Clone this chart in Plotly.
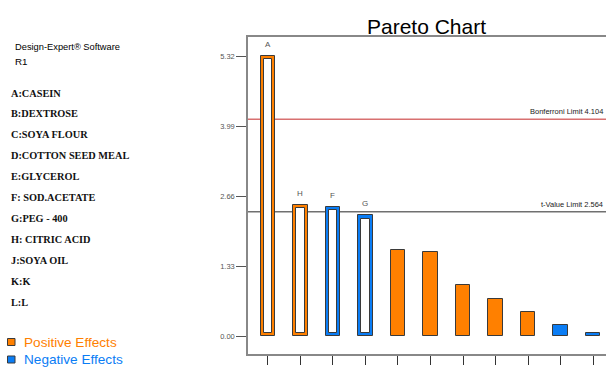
import plotly.graph_objects as go

# ---- data ----
bar_labels = ["A", "H", "F", "G", "", "", "", "", "", "", ""]
effects = [5.32, 2.49, 2.46, 2.29, 1.64, 1.59, 0.96, 0.70, 0.45, 0.20, 0.06]
signs = ["+", "+", "-", "-", "+", "+", "+", "+", "+", "-", "-"]
y_ticks = [0.00, 1.33, 2.66, 3.99, 5.32]
y_ticktext = ["0.00", "1.33", "2.66", "3.99", "5.32"]
bonferroni_y = 4.12
tvalue_y = 2.36
bonferroni_text = "Bonferroni Limit 4.104"
tvalue_text = "t-Value Limit 2.564"
factors = ["A:CASEIN", "B:DEXTROSE", "C:SOYA FLOUR", "D:COTTON SEED MEAL", "E:GLYCEROL",
           "F: SOD.ACETATE", "G:PEG - 400", "H: CITRIC ACID", "J:SOYA OIL", "K:K", "L:L"]
software_text = "Design-Expert® Software"
response_text = "R1"
legend_items = ["Positive Effects", "Negative Effects"]
title_text = "Pareto Chart"

ORANGE = "#FF8000"
BLUE = "#0A7DF5"
DARK = "#3a3a3a"
colour = {"+": ORANGE, "-": BLUE}

# ---- layout geometry (pixels) ----
W, H = 606, 367
ml, mr, mt, mb = 248, 0, 37, 13
pw, ph = W - ml - mr, H - mt - mb

def px(x):
    return (x - ml) / pw

def py(y):
    return (H - mb - y) / ph

xs = list(range(len(effects)))
hollow = [lab != "" for lab in bar_labels]
inset = 0.065

fig = go.Figure()

# filled bars
fx = [x for x, h in zip(xs, hollow) if not h]
fig.add_trace(go.Bar(
    x=fx, y=[effects[i] for i in fx], width=0.46,
    marker=dict(color=[colour[signs[i]] for i in fx], line=dict(color=DARK, width=1)),
    showlegend=False, hoverinfo="skip"))

# hollow bars: outer coloured frame + inner white
hx = [x for x, h in zip(xs, hollow) if h]
fig.add_trace(go.Bar(
    x=hx, y=[effects[i] for i in hx], width=0.46,
    marker=dict(color=[colour[signs[i]] for i in hx], line=dict(color=DARK, width=1)),
    showlegend=False, hoverinfo="skip"))
fig.add_trace(go.Bar(
    x=hx, y=[effects[i] - 2 * inset for i in hx], base=[inset] * len(hx), width=0.26,
    marker=dict(color="white", line=dict(color=DARK, width=1)),
    showlegend=False, hoverinfo="skip"))

shapes = []
ann = []

# limit lines
shapes.append(dict(type="line", xref="paper", yref="y", x0=0, x1=1,
                   y0=bonferroni_y, y1=bonferroni_y, layer="below",
                   line=dict(color="#D87070", width=1.5)))
shapes.append(dict(type="line", xref="paper", yref="y", x0=0, x1=1,
                   y0=tvalue_y, y1=tvalue_y, layer="below",
                   line=dict(color="#707070", width=1.5)))
ann.append(dict(x=px(605), xref="paper", y=bonferroni_y, yref="y", text=bonferroni_text,
                xanchor="right", yanchor="bottom", yshift=1, showarrow=False,
                font=dict(family="Arial", size=7.5, color="#222")))
ann.append(dict(x=px(605), xref="paper", y=tvalue_y, yref="y", text=tvalue_text,
                xanchor="right", yanchor="bottom", yshift=1, showarrow=False,
                font=dict(family="Arial", size=7.5, color="#222")))

# bar labels
for i, lab in enumerate(bar_labels):
    if lab:
        ann.append(dict(x=i, y=effects[i], xref="x", yref="y", text=lab, yshift=5,
                        showarrow=False, yanchor="bottom",
                        font=dict(family="Arial", size=8, color="#555")))

# left panel
ann.append(dict(x=px(13), y=py(47), xref="paper", yref="paper", text=software_text,
                xanchor="left", yanchor="middle", showarrow=False,
                font=dict(family="Arial", size=9.3, color="black")))
ann.append(dict(x=px(13), y=py(62), xref="paper", yref="paper", text=response_text,
                xanchor="left", yanchor="middle", showarrow=False,
                font=dict(family="Arial", size=9.8, color="black")))
for k, f in enumerate(factors):
    ann.append(dict(x=px(9), y=py(93 + k * 20.9), xref="paper", yref="paper",
                    text="<b>" + f + "</b>", xanchor="left", yanchor="middle", showarrow=False,
                    font=dict(family="Liberation Serif", size=10.3, color="#111")))

# legend
for k, (name, col) in enumerate(zip(legend_items, [ORANGE, BLUE])):
    yc = 342 + k * 17.5
    shapes.append(dict(type="rect", xref="paper", yref="paper",
                       x0=px(7.5), x1=px(15), y0=py(yc - 3.5), y1=py(yc + 3.5),
                       fillcolor=col, line=dict(color=DARK, width=1)))
    ann.append(dict(x=px(22), y=py(yc), xref="paper", yref="paper", text=name,
                    xanchor="left", yanchor="middle", showarrow=False,
                    font=dict(family="Arial", size=13.6, color=col)))

# title
ann.append(dict(x=px(426), y=py(26), xref="paper", yref="paper", text=title_text,
                xanchor="center", yanchor="middle", showarrow=False,
                font=dict(family="Arial", size=21, color="black")))

fig.update_layout(
    width=W, height=H, margin=dict(l=ml, r=mr, t=mt, b=mb),
    paper_bgcolor="white", plot_bgcolor="white",
    barmode="overlay", bargap=0, showlegend=False,
    annotations=ann, shapes=shapes,
)
fig.update_xaxes(range=[-0.615, 10.4], tickvals=xs, ticktext=[""] * len(xs),
                 ticks="outside", ticklen=9, tickcolor="#333", tickwidth=1,
                 showline=True, linecolor="#888", linewidth=1.5, mirror=True,
                 showgrid=False, zeroline=False)
fig.update_yaxes(range=[-0.342, 5.681], tickvals=y_ticks, ticktext=y_ticktext,
                 ticks="outside", ticklen=10, tickcolor="#555", tickwidth=1,
                 tickfont=dict(family="Arial", size=7.5, color="#555"),
                 showline=True, linecolor="#888", linewidth=1.5,
                 showgrid=False, zeroline=False)

fig.write_html("out.html")
